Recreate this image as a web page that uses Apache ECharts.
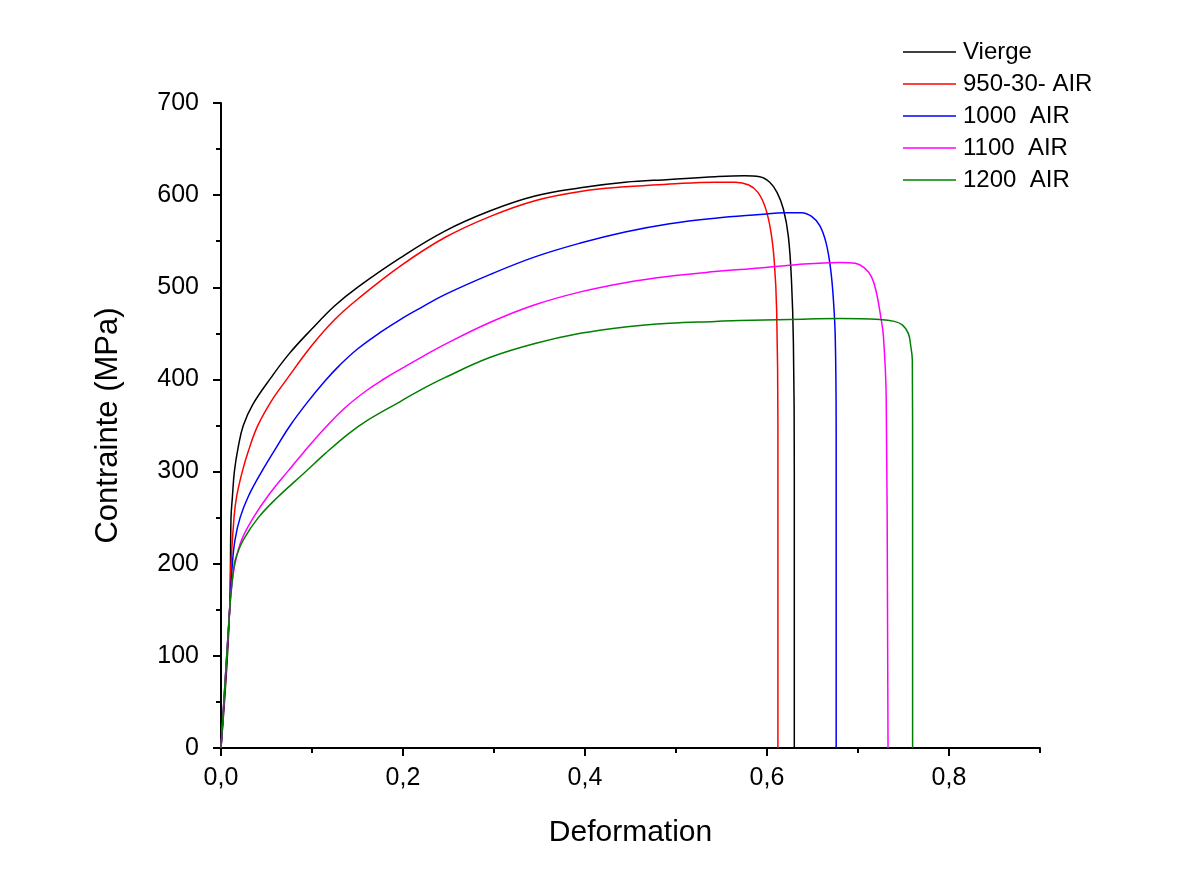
<!DOCTYPE html>
<html>
<head>
<meta charset="utf-8">
<script src="https://cdn.jsdelivr.net/npm/echarts@6/dist/echarts.min.js"></script>
<style>
html, body { margin: 0; padding: 0; background: #fff; }
#chart { width: 1201px; height: 890px; }
</style>
</head>
<body>
<div id="chart"></div>
<script>
// series names (legend)
var names = ['Vierge', '950-30- AIR', '1000  AIR', '1100  AIR', '1200  AIR']
var colors = ['#000000', '#ff0000', '#0000ff', '#ff00ff', '#008000']

// x tick labels
var xMajor = [0, 0.2, 0.4, 0.6, 0.8]
var xMinor = [0.1, 0.3, 0.5, 0.7, 0.9]

// Vierge
var viergeX = [0, 0.0095, 0.011, 0.0125, 0.0147, 0.019, 0.0245, 0.035, 0.055, 0.075, 0.1, 0.125, 0.15, 0.197, 0.246, 0.296, 0.345, 0.395, 0.444, 0.493, 0.543, 0.575, 0.592, 0.603, 0.611, 0.618, 0.6235, 0.627, 0.629, 0.630, 0.630]
var viergeY = [0, 150, 250, 272, 300, 327, 350, 373, 402, 428, 455, 480, 500, 532, 561, 583, 599, 608, 614, 617, 620, 621, 620, 614, 603, 585, 555, 505, 440, 300, 0]

// 950-30- AIR
var air950X = [0, 0.0095, 0.011, 0.0143, 0.0172, 0.0234, 0.030, 0.040, 0.055, 0.0714, 0.1, 0.125, 0.15, 0.197, 0.246, 0.296, 0.345, 0.395, 0.444, 0.493, 0.543, 0.565, 0.580, 0.590, 0.598, 0.604, 0.608, 0.6106, 0.612, 0.612]
var air950Y = [0, 150, 200, 250, 273, 300, 322, 349, 376, 399, 437, 465, 487, 523, 554, 577, 594, 604, 609, 612, 614, 614, 611, 603, 587, 562, 528, 475, 350, 0]

// 1000 AIR
var air1000X = [0, 0.0095, 0.0125, 0.0154, 0.021, 0.030, 0.0447, 0.06, 0.076, 0.094, 0.114, 0.13, 0.15, 0.175, 0.197, 0.22, 0.246, 0.296, 0.345, 0.395, 0.444, 0.493, 0.543, 0.592, 0.620, 0.638, 0.649, 0.658, 0.665, 0.670, 0.673, 0.675, 0.676, 0.676]
var air1000Y = [0, 150, 200, 226, 250, 273, 300, 325, 350, 374, 398, 415, 433, 451, 465, 478, 492, 514, 533, 548, 560, 569, 575, 579, 581, 581, 577, 567, 548, 519, 486, 446, 350, 0]

// 1100 AIR
var air1100X = [0, 0.0095, 0.0117, 0.0154, 0.0227, 0.0355, 0.052, 0.074, 0.09, 0.114, 0.136, 0.16, 0.18, 0.197, 0.22, 0.246, 0.296, 0.345, 0.395, 0.444, 0.493, 0.543, 0.592, 0.625, 0.680, 0.697, 0.707, 0.715, 0.7205, 0.725, 0.728, 0.731, 0.733]
var air1100Y = [0, 150, 175, 200, 226, 250, 274, 301, 320, 347, 369, 388, 401, 411, 424, 438, 462, 481, 495, 505, 512, 517, 521, 524, 527, 526, 521, 511, 493, 468, 446, 380, 0]

// 1200 AIR
var air1200X = [0, 0.0095, 0.0117, 0.0147, 0.018, 0.0245, 0.041, 0.061, 0.092, 0.115, 0.14, 0.16, 0.197, 0.22, 0.246, 0.296, 0.345, 0.395, 0.444, 0.493, 0.543, 0.570, 0.625, 0.680, 0.724, 0.740, 0.749, 0.7553, 0.758, 0.7597, 0.760, 0.760]
var air1200Y = [0, 150, 175, 200, 211, 226, 250, 271, 299, 320, 341, 355, 376, 389, 402, 424, 439, 450, 457, 461, 463, 464, 465, 466, 465, 463, 459, 450, 436, 421, 300, 0]

var xs = [viergeX, air950X, air1000X, air1100X, air1200X]
var ys = [viergeY, air950Y, air1000Y, air1100Y, air1200Y]

function pairs(x, y){
    var out = []
    for(var i = 0; i < x.length; i++){
        out.push([x[i], y[i]])
    }
    return out
}

var font = 'Liberation Sans, Arial, sans-serif'

var series = names.map(function(n, i){
    return {
        name: n,
        type: 'line',
        xAxisIndex: 0,
        data: pairs(xs[i], ys[i]),
        symbol: 'none',
        smooth: 0.4,
        color: colors[i],
        lineStyle: { width: 1.5, color: colors[i] },
        animation: false
    }
})

var chart = echarts.init(document.getElementById('chart'))
chart.setOption({
    backgroundColor: '#fff',
    animation: false,
    grid: { left: 221, right: 161, top: 103, bottom: 142 },
    legend: {
        orient: 'vertical',
        left: 898,
        top: 31,
        icon: 'rect',
        itemWidth: 53,
        itemHeight: 1.5,
        itemGap: 0,
        textStyle: { fontFamily: font, fontSize: 24, color: '#000', lineHeight: 32, padding: [0, 0, 0, 2] },
        data: names
    },
    xAxis: [{
        type: 'value',
        min: 0,
        max: 0.9,
        interval: 0.1,
        name: 'Deformation',
        nameLocation: 'middle',
        nameGap: 70,
        nameTextStyle: { fontFamily: font, fontSize: 30, color: '#000' },
        axisLine: { lineStyle: { color: '#000', width: 2 } },
        axisTick: { length: 8, lineStyle: { color: '#000', width: 2 }, customValues: xMajor },
        axisLabel: {
            customValues: xMajor,
            margin: 18,
            fontFamily: font, fontSize: 25, color: '#000',
            formatter: function(v){ return v.toFixed(1).replace('.', ',') }
        },
        splitLine: { show: false }
    }, {
        type: 'value',
        min: 0,
        max: 0.9,
        interval: 0.1,
        position: 'bottom',
        axisLine: { show: false },
        axisTick: { length: 5, lineStyle: { color: '#000', width: 2 }, customValues: xMinor },
        axisLabel: { show: false },
        splitLine: { show: false }
    }],
    yAxis: {
        type: 'value',
        min: 0,
        max: 700,
        interval: 100,
        name: 'Contrainte (MPa)',
        nameLocation: 'middle',
        nameGap: 97,
        nameTextStyle: { fontFamily: font, fontSize: 31, color: '#000' },
        axisLine: { show: true, lineStyle: { color: '#000', width: 2 } },
        axisTick: { show: true, length: 8, lineStyle: { color: '#000', width: 2 } },
        minorTick: { show: true, splitNumber: 2, length: 5, lineStyle: { color: '#000', width: 2 } },
        axisLabel: { margin: 22, fontFamily: font, fontSize: 25, color: '#000' },
        splitLine: { show: false }
    },
    series: series
})
</script>
</body>
</html>
